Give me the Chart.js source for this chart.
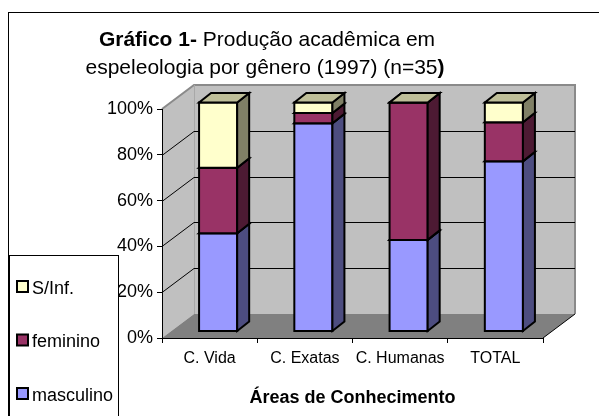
<!DOCTYPE html>
<html>
<head>
<meta charset="utf-8">
<script src="https://cdn.jsdelivr.net/npm/chart.js@4.4.0/dist/chart.umd.min.js"></script>
<style>
html, body { margin: 0; padding: 0; background: #fff; }
</style>
</head>
<body>
<canvas id="chart" width="599" height="416"></canvas>
<script>
// dados (percentual por área)
const categories = ['C. Vida', 'C. Exatas', 'C. Humanas', 'TOTAL'];
const masculino = [42.9, 90.9, 40.0, 74.3];
const feminino = [28.6, 4.5, 60.0, 17.1];
const semInf = [28.5, 4.6, 0, 8.6];
const yTicks = [0, 20, 40, 60, 80, 100];

const FONT = "'Liberation Sans', Arial, sans-serif";
const WALL = { x: 32, y: -24 };   // profundidade das paredes
const FRONT = { x: 8.5, y: -6.5 }; // face frontal das barras
const DEPTH = { x: 12, y: -9.5 };  // profundidade das barras

function shade(hex, f) {
    const n = parseInt(hex.slice(1), 16);
    const r = Math.round(((n >> 16) & 255) * f);
    const g = Math.round(((n >> 8) & 255) * f);
    const b = Math.round((n & 255) * f);
    return 'rgb(' + r + ',' + g + ',' + b + ')';
}

function poly(ctx, pts, fill, stroke, lw) {
    ctx.beginPath();
    ctx.moveTo(pts[0][0], pts[0][1]);
    for (let i = 1; i < pts.length; i++) ctx.lineTo(pts[i][0], pts[i][1]);
    ctx.closePath();
    if (fill) { ctx.fillStyle = fill; ctx.fill(); }
    if (stroke) { ctx.strokeStyle = stroke; ctx.lineWidth = lw || 1; ctx.stroke(); }
}

// moldura, paredes e piso
const wallsPlugin = {
    id: 'walls',
    beforeDraw(chart) {
        const ctx = chart.ctx;
        const a = chart.chartArea;
        const yScale = chart.scales.y;
        ctx.save();
        ctx.strokeStyle = '#000';
        ctx.lineWidth = 1;
        ctx.strokeRect(8.5, 12.5, 700, 700);

        const L = a.left, R = a.right, T = a.top, B = a.bottom;
        // parede esquerda
        poly(ctx, [[L, T], [L + WALL.x, T + WALL.y], [L + WALL.x, B + WALL.y], [L, B]], '#c0c0c0');
        // parede de fundo
        poly(ctx, [[L + WALL.x, T + WALL.y], [R + WALL.x, T + WALL.y], [R + WALL.x, B + WALL.y], [L + WALL.x, B + WALL.y]], '#c0c0c0');
        // piso
        poly(ctx, [[L, B], [L + WALL.x, B + WALL.y], [R + WALL.x, B + WALL.y], [R, B]], '#808080');

        ctx.lineWidth = 2;
        ctx.strokeStyle = '#8a8a8a';
        ctx.beginPath();
        ctx.moveTo(L, T);
        ctx.lineTo(L + WALL.x, T + WALL.y);
        ctx.lineTo(R + WALL.x, T + WALL.y);
        ctx.lineTo(R + WALL.x, B + WALL.y);
        ctx.stroke();
        ctx.lineWidth = 1;
        ctx.strokeStyle = '#a8a8a8';
        ctx.beginPath();
        ctx.moveTo(L + WALL.x + 0.5, T + WALL.y);
        ctx.lineTo(L + WALL.x + 0.5, B + WALL.y);
        ctx.stroke();

        // linhas de grade
        ctx.strokeStyle = '#000';
        ctx.lineWidth = 1;
        yTicks.forEach(v => {
            if (v === 0 || v === 100) return;
            const y = Math.round(yScale.getPixelForValue(v)) + 0.5;
            ctx.beginPath();
            ctx.moveTo(L, y);
            ctx.lineTo(L + WALL.x, y + WALL.y);
            ctx.lineTo(R + WALL.x, y + WALL.y);
            ctx.stroke();
        });
        // aresta frontal do piso
        ctx.beginPath();
        ctx.moveTo(R, B);
        ctx.lineTo(R + WALL.x, B + WALL.y);
        ctx.stroke();
        ctx.restore();
    }
};

// colunas 3D a partir dos elementos do Chart.js
const bars3dPlugin = {
    id: 'bars3d',
    beforeDatasetsDraw(chart) {
        const ctx = chart.ctx;
        ctx.save();
        ctx.lineJoin = 'miter';
        const n = chart.data.datasets.length;
        categories.forEach((c, j) => {
            for (let i = 0; i < n; i++) {
                const color = chart.data.datasets[i].backgroundColor;
                const el = chart.getDatasetMeta(i).data[j];
                const p = el.getProps(['x', 'y', 'base', 'width'], true);
                const l = p.x - p.width / 2 + FRONT.x;
                const r = p.x + p.width / 2 + FRONT.x;
                const t = p.y + FRONT.y;
                const b = p.base + FRONT.y;
                // frente
                poly(ctx, [[l, t], [r, t], [r, b], [l, b]], color, '#000', 2);
                // lateral
                poly(ctx, [[r, t], [r + DEPTH.x, t + DEPTH.y], [r + DEPTH.x, b + DEPTH.y], [r, b]], shade(color, 0.5), '#000', 2);
                // topo
                poly(ctx, [[l, t], [r, t], [r + DEPTH.x, t + DEPTH.y], [l + DEPTH.x, t + DEPTH.y]], shade(color, 0.75), '#000', 2);
            }
        });
        ctx.restore();
        return false;
    }
};

function drawMixed(ctx, parts, cx, cy) {
    let total = 0;
    parts.forEach(p => { ctx.font = p[1]; total += ctx.measureText(p[0]).width; });
    let x = cx - total / 2;
    parts.forEach(p => {
        ctx.font = p[1];
        ctx.fillText(p[0], x, cy);
        x += ctx.measureText(p[0]).width;
    });
}

// título e legenda
const overlayPlugin = {
    id: 'overlay',
    afterDraw(chart) {
        const ctx = chart.ctx;
        ctx.save();
        ctx.fillStyle = '#000';
        ctx.textBaseline = 'middle';
        ctx.textAlign = 'left';
        const bold = 'bold 21px ' + FONT;
        const normal = '21px ' + FONT;
        drawMixed(ctx, [['Gráfico 1-', bold], [' Produção acadêmica em', normal]], 267, 40);
        drawMixed(ctx, [['espeleologia por gênero (1997) (n=35', normal], [')', bold]], 265, 68);

        // legenda
        ctx.fillStyle = '#fff';
        ctx.fillRect(9.5, 255.5, 109, 200);
        ctx.strokeStyle = '#000';
        ctx.lineWidth = 1;
        ctx.strokeRect(9.5, 255.5, 109, 200);
        const items = chart.data.datasets.slice().reverse();
        ctx.font = '18px ' + FONT;
        items.forEach((ds, k) => {
            const cy = 288 + k * 53.5;
            ctx.fillStyle = ds.backgroundColor;
            ctx.fillRect(17, cy - 7, 11, 11);
            ctx.lineWidth = 2;
            ctx.strokeStyle = '#000';
            ctx.strokeRect(17, cy - 7, 11, 11);
            ctx.fillStyle = '#000';
            ctx.fillText(ds.label, 32, cy + 1);
        });
        ctx.restore();
    }
};

new Chart(document.getElementById('chart'), {
    type: 'bar',
    data: {
        labels: categories,
        datasets: [
            { label: 'masculino', data: masculino, backgroundColor: '#9999ff' },
            { label: 'feminino', data: feminino, backgroundColor: '#993366' },
            { label: 'S/Inf.', data: semInf, backgroundColor: '#ffffcc' }
        ]
    },
    options: {
        responsive: false,
        animation: false,
        datasets: { bar: { barPercentage: 0.4, categoryPercentage: 1.0 } },
        layout: { padding: { left: 0, right: 56, top: 109, bottom: 0 } },
        plugins: {
            legend: { display: false },
            tooltip: { enabled: false },
            title: { display: false }
        },
        scales: {
            x: {
                stacked: true,
                grid: { drawOnChartArea: false, offset: true, tickLength: 5, color: '#000' },
                border: { display: true, color: '#000' },
                ticks: { color: '#000', font: { family: FONT, size: 16 }, padding: 6, maxRotation: 0 },
                title: {
                    display: true,
                    text: 'Áreas de Conhecimento',
                    color: '#000',
                    font: { family: FONT, size: 18, weight: 'bold' },
                    padding: { top: 0, bottom: 7 }
                },
                afterFit: s => { s.height = 78; }
            },
            y: {
                stacked: true,
                min: 0,
                max: 100,
                afterBuildTicks: s => { s.ticks = yTicks.map(v => ({ value: v })); },
                grid: { drawOnChartArea: false, tickLength: 5, color: '#000' },
                border: { display: true, color: '#000' },
                ticks: { color: '#000', font: { family: FONT, size: 18 }, padding: 4, callback: v => v + '%' },
                afterFit: s => { s.width = 162; }
            }
        }
    },
    plugins: [wallsPlugin, bars3dPlugin, overlayPlugin]
});
</script>
</body>
</html>
